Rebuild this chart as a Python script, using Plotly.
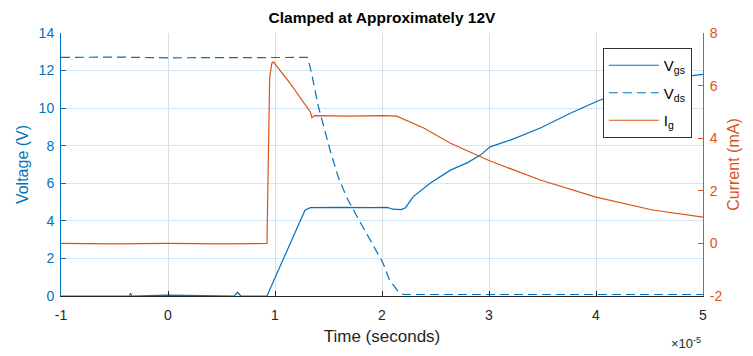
import plotly.graph_objects as go

# Time in units of 1e-5 s
t_vgs = [-1.0, -0.36, -0.35, -0.34, 0.0, 0.62, 0.65, 0.68, 0.925, 1.10, 1.28, 1.33, 1.6, 1.9, 2.05, 2.1, 2.18, 2.22,
         2.29, 2.45, 2.64, 2.80, 2.92, 3.01, 3.2, 3.48, 3.75, 4.0, 4.07, 4.5, 4.86, 5.0]
vgs = [0.0, 0.0, 0.15, 0.0, 0.05, 0.0, 0.2, 0.0, 0.0, 2.3, 4.57, 4.7, 4.72, 4.7, 4.72, 4.62, 4.6, 4.7,
       5.28, 6.0, 6.7, 7.1, 7.5, 7.94, 8.3, 8.94, 9.7, 10.34, 10.5, 11.2, 11.7, 11.8]

t_vds = [-1.0, -0.5, 0.0, 0.5, 1.0, 1.30, 1.31, 1.34, 1.405, 1.514, 1.59, 1.67, 1.75, 1.85, 1.95, 2.01, 2.07, 2.15,
         2.2, 3.0, 4.0, 5.0]
vds = [12.7, 12.72, 12.68, 12.7, 12.72, 12.7, 12.6, 11.9, 10.1, 7.77, 6.35, 5.25, 4.4, 3.4, 2.4, 1.75, 0.85, 0.25,
       0.08, 0.08, 0.08, 0.08]

t_ig = [-1.0, -0.5, 0.0, 0.5, 0.925, 0.95, 0.97, 0.985, 1.14, 1.33, 1.345, 1.37, 1.7, 2.0, 2.137, 2.39, 2.64,
        2.92, 3.0, 3.48, 4.0, 4.53, 5.0]
ig = [0.0, -0.02, 0.0, -0.02, 0.0, 6.3, 6.85, 6.9, 6.09, 5.0, 4.78, 4.86, 4.84, 4.86, 4.84, 4.39, 3.81,
      3.28, 3.15, 2.41, 1.76, 1.27, 1.0]

x_ticks = [-1, 0, 1, 2, 3, 4, 5]
x_ticktext = ["-1", "0", "1", "2", "3", "4", "5"]
v_ticks = [0, 2, 4, 6, 8, 10, 12, 14]
i_ticks = [-2, 0, 2, 4, 6, 8]
i_ticktext = ["-2", "0", "2", "4", "6", "8"]

BLUE = "#0072BD"
ORANGE = "#D95319"
DARK = "#262626"
FONT = "Liberation Sans, Arial, sans-serif"

fig = go.Figure()
fig.add_trace(go.Scatter(x=t_vgs, y=vgs, mode="lines", name="V<sub>gs</sub>", legendgroup="a",
                         line=dict(color=BLUE, width=1.2), yaxis="y"))
fig.add_trace(go.Scatter(x=t_vds, y=vds, mode="lines", name="V<sub>ds</sub>", legendgroup="b",
                         line=dict(color=BLUE, width=1.2, dash="9px,5px"), yaxis="y"))
fig.add_trace(go.Scatter(x=t_ig, y=ig, mode="lines", name="I<sub>g</sub>", legendgroup="c",
                         line=dict(color=ORANGE, width=1.2), yaxis="y2"))

fig.update_layout(
    width=753, height=356,
    margin=dict(l=61, r=50, t=33, b=60),
    paper_bgcolor="white", plot_bgcolor="white",
    font=dict(family=FONT, size=14, color=DARK),
    title=dict(text="<b>Clamped at Approximately 12V</b>", xref="paper", x=0.5, xanchor="center",
               yref="container", y=0.952, yanchor="middle", font=dict(size=15.5, color="black")),
    xaxis=dict(range=[-1, 5], tickvals=x_ticks, ticktext=x_ticktext, ticks="inside", ticklen=5,
               tickcolor=DARK, showline=True, linecolor=DARK, linewidth=1, showgrid=True,
               gridcolor="#dcdcdc", zeroline=False, tickfont=dict(size=14, color=DARK),
               ticklabelstandoff=6,
               title=dict(text="Time (seconds)", font=dict(size=17, color=DARK), standoff=8)),
    yaxis=dict(range=[0, 14], tickvals=v_ticks, ticks="inside", ticklen=5, tickcolor=BLUE,
               showline=True, linecolor=BLUE, linewidth=1, showgrid=True, gridcolor="#d4e5f3",
               zeroline=False, tickfont=dict(size=14, color=BLUE), ticklabelstandoff=3,
               title=dict(text="Voltage (V)", font=dict(size=16, color=BLUE), standoff=6)),
    yaxis2=dict(range=[-2, 8], tickvals=i_ticks, ticktext=i_ticktext, overlaying="y", side="right",
                ticks="inside", ticklen=5, tickcolor=ORANGE, showline=True, linecolor=ORANGE, linewidth=1,
                showgrid=False, zeroline=False, tickfont=dict(size=14, color=ORANGE), ticklabelstandoff=3,
                title=dict(text="Current (mA)", font=dict(size=16, color=ORANGE), standoff=6)),
    legend=dict(x=0.844, y=0.943, xanchor="left", yanchor="top", bgcolor="white",
                bordercolor="#333333", borderwidth=1, font=dict(size=15, color="black"),
                itemwidth=50, tracegroupgap=5, traceorder="grouped"),
    showlegend=True,
    annotations=[dict(text="×10<sup>-5</sup>", xref="paper", yref="paper", x=1.0, y=-0.18,
                      xanchor="right", yanchor="middle", showarrow=False,
                      font=dict(size=13, color=DARK))],
)

fig.write_html("out.html")
